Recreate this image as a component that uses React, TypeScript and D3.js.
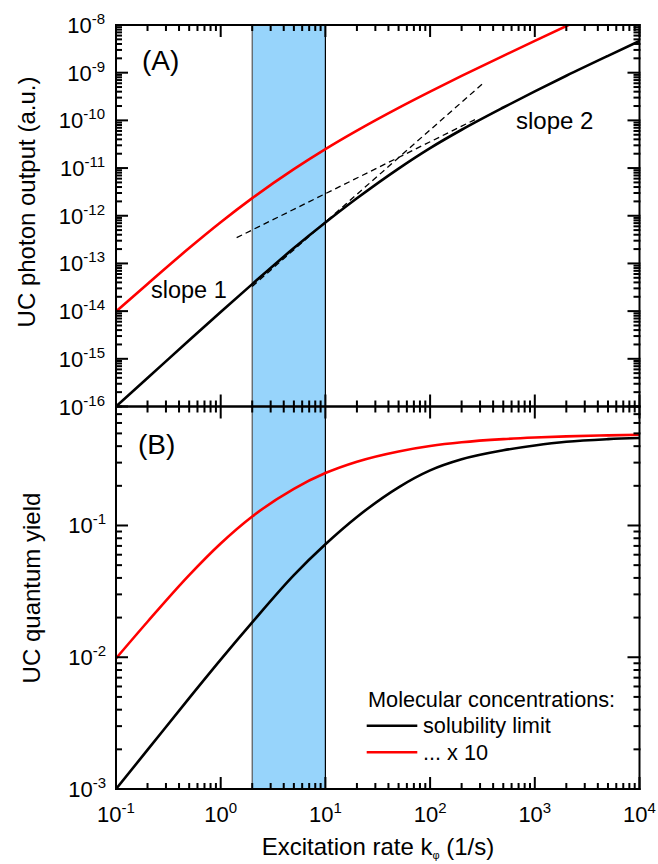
import React from "react";
import * as d3 from "d3";

// Excitation rates (1/s) at which the curves are sampled
const kValues = [0.1, 0.2, 0.5, 1, 2, 5, 10, 20, 50, 100, 200, 500, 1000, 2000, 5000, 10000];

// (A) UC photon output (a.u.)
const outputSolubility = [1.0e-16, 3.96e-16, 2.45e-15, 9.6e-15, 3.68e-14, 2.1e-13, 7.2e-13, 2.32e-12, 9.75e-12, 2.62e-11, 6.36e-11, 1.86e-10, 4.05e-10, 8.64e-10, 2.26e-9, 4.61e-9];
const outputTimes10 = [9.8e-15, 3.72e-14, 2.1e-13, 7.3e-13, 2.34e-12, 9.5e-12, 2.5e-11, 6.1e-11, 1.83e-10, 4.01e-10, 8.56e-10, 2.26e-9, 4.65e-9, 9.5e-9, 2.42e-8, 4.88e-8];

// (B) UC quantum yield
const yieldSolubility = [0.001, 0.00198, 0.0049, 0.0096, 0.0184, 0.042, 0.072, 0.116, 0.195, 0.262, 0.318, 0.372, 0.405, 0.432, 0.452, 0.461];
const yieldTimes10 = [0.0098, 0.0186, 0.042, 0.073, 0.117, 0.19, 0.25, 0.305, 0.365, 0.401, 0.428, 0.452, 0.465, 0.475, 0.483, 0.488];

// Asymptotic guide lines in (A): [k, output] end points
const guideSteep = [[2, 3.3e-14], [334, 6.47e-10]];
const guideShallow = [[1.42, 3.47e-13], [287, 1.12e-10]];

// Highlighted excitation range
const bandRange = [2, 10];

// Decade exponents used for tick labels
const xTickExps = [-1, 0, 1, 2, 3, 4];
const outputTickExps = [-16, -15, -14, -13, -12, -11, -10, -9, -8];
const yieldTickExps = [-3, -2, -1];

const FONT = '"Liberation Sans", Arial, Helvetica, sans-serif';

const L = 116;
const R = 639.5;
const TOP_A = 25;
const MID = 406.5;
const BOT_B = 789;

const x = d3.scaleLog().domain([0.1, 1e4]).range([L, R]);
const yA = d3.scaleLog().domain([1e-16, 1e-8]).range([MID, TOP_A]);
const yB = d3.scaleLog().domain([1e-3, 0.8]).range([BOT_B, MID]);

const MAJ = 12;
const MIN = 6;
const TW = 2; // tick thickness
const OUT = 1; // ticks start on the outer edge of the frame line

// a decade value has mantissa 1
const isDecade = (v: number) => Math.abs(Math.log10(v) - Math.round(Math.log10(v))) < 1e-6;

type Tick = { key: string; x: number; y: number; w: number; h: number };

function buildTicks(): Tick[] {
  const out: Tick[] = [];
  x.ticks().forEach((v, i) => {
    const px = x(v);
    const len = isDecade(v) ? MAJ : MIN;
    out.push({ key: `xt${i}`, x: px - TW / 2, y: TOP_A - OUT, w: TW, h: len + OUT });
    out.push({ key: `xm${i}`, x: px - TW / 2, y: MID - len, w: TW, h: 2 * len });
    out.push({ key: `xb${i}`, x: px - TW / 2, y: BOT_B - len, w: TW, h: len + OUT });
  });
  yA.ticks().forEach((v, i) => {
    const py = yA(v);
    const len = isDecade(v) ? MAJ : MIN;
    out.push({ key: `al${i}`, x: L - OUT, y: py - TW / 2, w: len + OUT, h: TW });
    out.push({ key: `ar${i}`, x: R - len, y: py - TW / 2, w: len + OUT, h: TW });
  });
  yB.ticks().forEach((v, i) => {
    const py = yB(v);
    const len = isDecade(v) ? MAJ : MIN;
    out.push({ key: `bl${i}`, x: L - OUT, y: py - TW / 2, w: len + OUT, h: TW });
    out.push({ key: `br${i}`, x: R - len, y: py - TW / 2, w: len + OUT, h: TW });
  });
  return out;
}

function Pow10({ x: px, y: py, exp, anchor }: { x: number; y: number; exp: number; anchor: string }) {
  return (
    <text x={px} y={py} textAnchor={anchor} fontFamily={FONT} fontSize={22} fill="#000">
      10
      <tspan dy={-9} fontSize={15}>
        {String(exp)}
      </tspan>
    </text>
  );
}

export default function App() {
  const lineA = d3
    .line<[number, number]>()
    .x((d) => x(d[0]))
    .y((d) => yA(d[1]))
    .curve(d3.curveMonotoneX);
  const lineB = d3
    .line<[number, number]>()
    .x((d) => x(d[0]))
    .y((d) => yB(d[1]))
    .curve(d3.curveMonotoneX);
  const straightA = d3
    .line<number[]>()
    .x((d) => x(d[0]))
    .y((d) => yA(d[1]));

  const pairs = (ys: number[]) => kValues.map((k, i) => [k, ys[i]] as [number, number]);

  const bx0 = x(bandRange[0]);
  const bx1 = x(bandRange[1]);
  const ticks = buildTicks();

  return (
    <svg
      width={658}
      height={864}
      style={{ position: "absolute", left: 0, top: 0, background: "#fff" }}
    >
      <defs>
        <clipPath id="clipA">
          <rect x={L} y={TOP_A} width={R - L} height={MID - TOP_A} />
        </clipPath>
        <clipPath id="clipB">
          <rect x={L} y={MID} width={R - L} height={BOT_B - MID} />
        </clipPath>
      </defs>

      {/* highlighted excitation range */}
      <rect x={bx0} y={TOP_A} width={bx1 - bx0} height={BOT_B - TOP_A} fill="#97d4fb" />
      <line x1={bx0} x2={bx0} y1={TOP_A} y2={BOT_B} stroke="#555" strokeWidth={1.2} />
      <line x1={bx1} x2={bx1} y1={TOP_A} y2={BOT_B} stroke="#000" strokeWidth={1.2} />

      {/* panel A curves */}
      <g clipPath="url(#clipA)" fill="none">
        <path d={straightA(guideSteep) || ""} stroke="#000" strokeWidth={1.3} strokeDasharray="6,4" />
        <path d={straightA(guideShallow) || ""} stroke="#000" strokeWidth={1.3} strokeDasharray="6,4" />
        <path d={lineA(pairs(outputSolubility)) || ""} stroke="#000" strokeWidth={2.6} />
        <path d={lineA(pairs(outputTimes10)) || ""} stroke="#ff0000" strokeWidth={2.6} />
      </g>

      {/* panel B curves */}
      <g clipPath="url(#clipB)" fill="none">
        <path d={lineB(pairs(yieldSolubility)) || ""} stroke="#000" strokeWidth={2.6} />
        <path d={lineB(pairs(yieldTimes10)) || ""} stroke="#ff0000" strokeWidth={2.6} />
      </g>

      {/* frames */}
      <rect x={L} y={TOP_A} width={R - L} height={MID - TOP_A} fill="none" stroke="#000" strokeWidth={2} />
      <rect x={L} y={MID} width={R - L} height={BOT_B - MID} fill="none" stroke="#000" strokeWidth={2} />

      {/* tick marks */}
      {ticks.map((t) => (
        <rect key={t.key} x={t.x} y={t.y} width={t.w} height={t.h} fill="#000" />
      ))}

      {/* tick labels */}
      {outputTickExps.map((e) => (
        <Pow10 key={"la" + e} x={105} y={yA(Math.pow(10, e)) + 8} exp={e} anchor="end" />
      ))}
      {yieldTickExps.map((e) => (
        <Pow10 key={"lb" + e} x={106} y={yB(Math.pow(10, e)) + 8} exp={e} anchor="end" />
      ))}
      {xTickExps.map((e) => (
        <Pow10 key={"lx" + e} x={x(Math.pow(10, e))} y={822} exp={e} anchor="middle" />
      ))}

      {/* axis titles */}
      <text x={378} y={855} textAnchor="middle" fontFamily={FONT} fontSize={24} fill="#000">
        Excitation rate k
        <tspan dy={4} fontSize={11} fill="#000">
          {"\u03C6"}
        </tspan>
        <tspan dy={-4}> (1/s)</tspan>
      </text>
      <text
        transform="translate(35,202) rotate(-90)"
        textAnchor="middle"
        fontFamily={FONT}
        fontSize={24}
        fill="#000"
      >
        UC photon output (a.u.)
      </text>
      <text
        transform="translate(40,588) rotate(-90)"
        textAnchor="middle"
        fontFamily={FONT}
        fontSize={24}
        fill="#000"
      >
        UC quantum yield
      </text>

      {/* panel labels and annotations */}
      <text x={142} y={70} fontFamily={FONT} fontSize={28} fill="#000">
        (A)
      </text>
      <text x={138} y={454} fontFamily={FONT} fontSize={28} fill="#000">
        (B)
      </text>
      <text x={151} y={298} fontFamily={FONT} fontSize={23.5} fill="#000">
        slope 1
      </text>
      <text x={516} y={129} fontFamily={FONT} fontSize={24} fill="#000">
        slope 2
      </text>

      {/* legend */}
      <text x={368} y={706.5} fontFamily={FONT} fontSize={21.7} fill="#000">
        Molecular concentrations:
      </text>
      <line x1={366.7} x2={417.3} y1={725.7} y2={725.7} stroke="#000" strokeWidth={2.6} />
      <text x={423} y={732.7} fontFamily={FONT} fontSize={21.7} fill="#000">
        solubility limit
      </text>
      <line x1={366.7} x2={417.3} y1={752.3} y2={752.3} stroke="#ff0000" strokeWidth={2.6} />
      <text x={423} y={760} fontFamily={FONT} fontSize={21.7} fill="#000">
        ... x 10
      </text>
    </svg>
  );
}
